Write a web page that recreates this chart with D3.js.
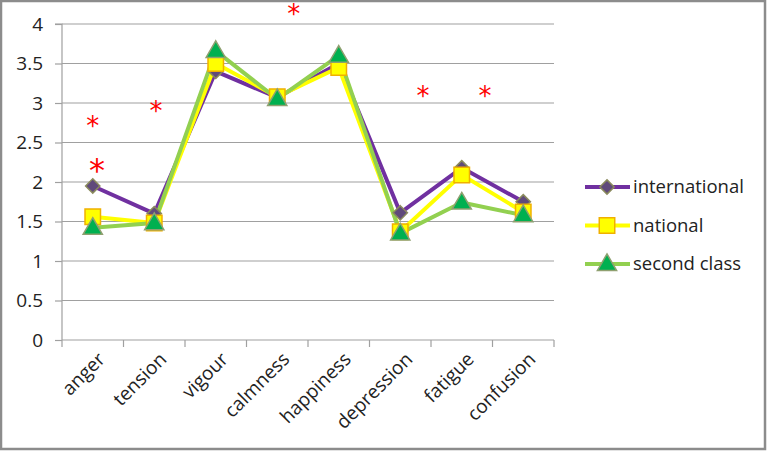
<!DOCTYPE html>
<html>
<head>
<meta charset="utf-8">
<script src="https://cdn.jsdelivr.net/npm/d3@7"></script>
<style>
  html, body { margin: 0; padding: 0; background: #fff; }
  svg { display: block; font-family: "Open Sans", "Liberation Sans", sans-serif; }
</style>
</head>
<body>
<svg id="chart" width="767" height="451"></svg>
<script>
// mood profile, three groups

const categories = ["anger", "tension", "vigour", "calmness", "happiness", "depression", "fatigue", "confusion"];
const international = [1.95, 1.6, 3.4, 3.07, 3.5, 1.61, 2.18, 1.75];
const national = [1.56, 1.48, 3.5, 3.08, 3.45, 1.37, 2.09, 1.62];
const secondClass = [1.42, 1.48, 3.66, 3.05, 3.6, 1.35, 1.74, 1.58];
const yTicks = [0, 0.5, 1, 1.5, 2, 2.5, 3, 3.5, 4];

// significance stars: position along the category index, value, size
const starPos = [0, 0.07, 1.03, 3.27, 5.37, 6.38];
const starVal = [2.76, 2.2, 2.96, 4.19, 3.15, 3.15];
const starBig = [false, true, false, false, false, false];

const series = [
    { name: "international", values: international, line: "#7030a0", shape: "diamond", fill: "#604a7b", stroke: "#8a8a5c" },
    { name: "national", values: national, line: "#ffff00", shape: "square", fill: "#ffff00", stroke: "#f0b000" },
    { name: "second class", values: secondClass, line: "#92d050", shape: "triangle", fill: "#00b050", stroke: "#8fa070" },
];

const svg = d3.select("#chart");

// outer frame
svg.append("rect")
    .attr("x", 1).attr("y", 1).attr("width", 764).attr("height", 448)
    .attr("fill", "#fff").attr("stroke", "#8c8c8c").attr("stroke-width", 2.5);

const plot = { left: 62, right: 554, top: 24, bottom: 340 };

const x = d3.scaleBand().domain(categories).range([plot.left, plot.right]);
const xi = d3.scaleLinear().domain([0, categories.length - 1])
    .range([plot.left + x.bandwidth() / 2, plot.right - x.bandwidth() / 2]);
const y = d3.scaleLinear().domain([0, 4]).range([plot.bottom, plot.top]);

// gridlines
svg.append("g").selectAll("line")
    .data(yTicks.filter(d => d > 0)).enter().append("line")
    .attr("x1", plot.left).attr("x2", plot.right)
    .attr("y1", d => y(d)).attr("y2", d => y(d))
    .attr("stroke", "#a0a0a0").attr("stroke-width", 1.2);

// y axis
const yAxis = svg.append("g")
    .attr("transform", `translate(${plot.left},0)`)
    .call(d3.axisLeft(y).tickValues(yTicks).tickSize(7).tickPadding(12).tickFormat(d3.format("")));
yAxis.selectAll("line, path").attr("stroke", "#a0a0a0").attr("stroke-width", 1.2);
yAxis.select(".domain").attr("d", `M-7,${plot.top}H0V${plot.bottom}`);
yAxis.selectAll("text").attr("font-size", 19).attr("fill", "#222")
    .style("font-family", "'Open Sans', sans-serif");

// x axis
const xAxis = svg.append("g")
    .attr("transform", `translate(0,${plot.bottom})`)
    .call(d3.axisBottom(x).tickSize(0).tickFormat(""));
xAxis.selectAll("path").attr("stroke", "#a0a0a0").attr("stroke-width", 1.2);
xAxis.select(".domain").attr("d", `M${plot.left},0H${plot.right}`);
xAxis.selectAll(".tick").remove();
svg.append("g").selectAll("line")
    .data(d3.range(categories.length + 1)).enter().append("line")
    .attr("x1", d => plot.left + d * x.bandwidth()).attr("x2", d => plot.left + d * x.bandwidth())
    .attr("y1", plot.bottom).attr("y2", plot.bottom + 7)
    .attr("stroke", "#a0a0a0").attr("stroke-width", 1.2);

svg.append("g").selectAll("text")
    .data(categories).enter().append("text")
    .attr("transform", d => `translate(${x(d) + x.bandwidth() / 2 + 4},${plot.bottom + 11}) rotate(-45)`)
    .attr("text-anchor", "end")
    .attr("dy", "0.7em")
    .attr("font-size", 19).attr("fill", "#222")
    .text(d => d);

// marker shapes
const symbolOf = {
    diamond: d3.symbol().type(d3.symbolDiamond2).size(130),
    square: d3.symbol().type(d3.symbolSquare).size(240),
    triangle: d3.symbol().type(d3.symbolTriangle).size(160),
};

const line = d3.line()
    .x((d, i) => xi(i))
    .y(d => y(d));

series.forEach(s => {
    svg.append("path")
        .datum(s.values)
        .attr("fill", "none")
        .attr("stroke", s.line)
        .attr("stroke-width", 4)
        .attr("stroke-linejoin", "round")
        .attr("d", line);
});

series.forEach(s => {
    svg.append("g").selectAll("path")
        .data(s.values).enter().append("path")
        .attr("transform", (d, i) => `translate(${xi(i)},${y(d) + (s.shape === "triangle" ? 1 : 0)})`)
        .attr("d", symbolOf[s.shape])
        .attr("fill", s.fill)
        .attr("stroke", s.stroke)
        .attr("stroke-width", 1.5);
});

// stars
svg.append("g").selectAll("text")
    .data(starPos).enter().append("text")
    .attr("x", d => xi(d))
    .attr("y", (d, i) => y(starVal[i]))
    .attr("dy", (d, i) => starBig[i] ? "0.45em" : "0.52em")
    .attr("text-anchor", "middle")
    .attr("font-size", (d, i) => starBig[i] ? 32 : 26)
    .attr("fill", "#ff0000")
    .style("font-family", "'DejaVu Sans', sans-serif")
    .text("*");

// legend
const legend = svg.append("g").attr("transform", "translate(585,187)");
series.forEach((s, i) => {
    const g = legend.append("g").attr("transform", `translate(0,${i * 38.5})`);
    g.append("line").attr("x1", 0).attr("x2", 45).attr("y1", 0).attr("y2", 0)
        .attr("stroke", s.line).attr("stroke-width", 4);
    g.append("path")
        .attr("transform", `translate(22,${s.shape === "triangle" ? 1 : 0})`)
        .attr("d", symbolOf[s.shape])
        .attr("fill", s.fill).attr("stroke", s.stroke).attr("stroke-width", 1.5);
    g.append("text").attr("x", 48).attr("dy", "0.35em")
        .attr("font-size", 18.5).attr("fill", "#222")
        .text(s.name);
});
</script>
</body>
</html>
